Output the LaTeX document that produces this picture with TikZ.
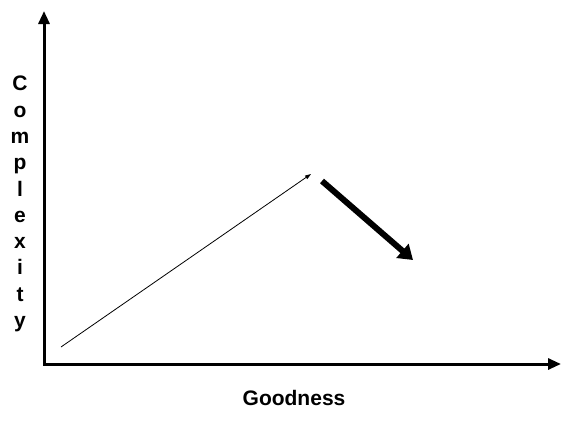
\documentclass[tikz,border=0pt]{standalone}
\usepackage{fontspec}
\setmainfont{Liberation Sans}
\usetikzlibrary{arrows.meta}
\begin{document}
\begin{tikzpicture}[x=1pt,y=-1pt,
  axis/.style={line width=3pt,-{Triangle[length=13pt,width=11pt]}},
  thinarrow/.style={line width=0.8pt,-{Triangle[length=6pt,width=4pt]}},
  thickarrow/.style={line width=6pt,-{Triangle[length=14pt,width=18pt]}},
  lbl/.style={font=\fontsize{21}{26.3}\selectfont\bfseries,inner sep=0pt}]
\useasboundingbox (0,0) rectangle (572,423);
\coordinate (O) at (44,364);
\coordinate (ytop) at (44,11);
\coordinate (xend) at (561,364);
\draw[axis,line cap=rect] (O) -- (ytop);
\draw[axis] (O) -- (xend);
\coordinate (a1) at (61,347);
\coordinate (a2) at (311,174);
\draw[thinarrow] (a1) -- (a2);
\coordinate (b1) at (322,181);
\coordinate (b2) at (413,260);
\draw[thickarrow] (b1) -- (b2);
\node[lbl] (xlabel) at (294,398) {Goodness};
\node[lbl,align=center] (ylabel) at (20,204) {C\\o\\m\\p\\l\\e\\x\\i\\t\\y};
\end{tikzpicture}
\end{document}
